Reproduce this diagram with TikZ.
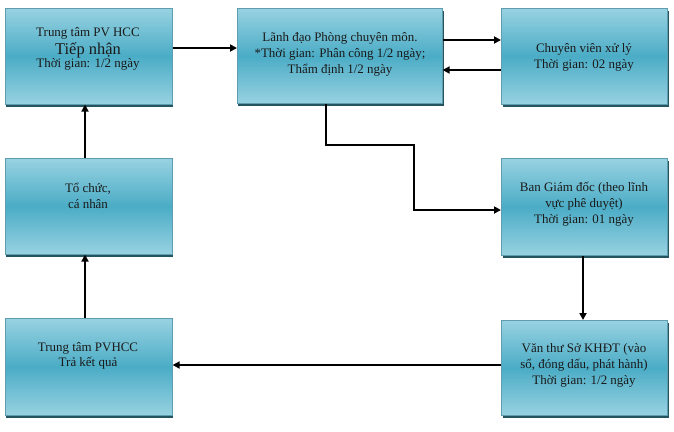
\documentclass[tikz,border=0pt]{standalone}
\usepackage{fontspec}
\setmainfont{Liberation Serif}
\usetikzlibrary{arrows.meta,shadows}
\definecolor{boxlight}{HTML}{98D2E1}
\definecolor{boxmid}{HTML}{4BACC6}
\definecolor{boxedge}{HTML}{5E9DAE}
\definecolor{shadowc}{HTML}{24545F}
\definecolor{txt}{HTML}{1A1A1A}
\tikzset{
  box/.style={draw=boxedge, line width=0.6pt, inner sep=0pt, anchor=north west,
    top color=boxlight, bottom color=boxlight, middle color=boxmid,
    drop shadow={shadow xshift=1.2pt, shadow yshift=-3pt, fill=shadowc, opacity=1}},
  lbl/.style={text=txt, align=center, inner sep=0pt, font=\fontsize{13}{16}\selectfont},
  arr/.style={line width=2.6pt, -{Triangle[length=7pt,width=7pt]}}
}
\begin{document}
\begin{tikzpicture}[x=1bp,y=-1bp]
\useasboundingbox (0,0) rectangle (674,431);
% boxes
\node[box, minimum width=167bp, minimum height=96bp] (b1) at (5,8) {};
\node[box, minimum width=205bp, minimum height=95bp] (b2) at (237,8) {};
\node[box, minimum width=166bp, minimum height=96bp] (b3) at (501,8) {};
\node[box, minimum width=167bp, minimum height=96bp] (b4) at (5,158) {};
\node[box, minimum width=166bp, minimum height=97bp] (b5) at (501,158) {};
\node[box, minimum width=166bp, minimum height=95bp] (b6) at (501,320) {};
\node[box, minimum width=167bp, minimum height=97bp] (b7) at (5,318) {};
% texts
\node[lbl] (t1) at (88,49) {Trung tâm PV HCC\\[2pt]{\fontsize{16.5}{17}\selectfont Tiếp nhận}\\[-3pt]Thời gian: 1/2 ngày};
\node[lbl] (t2) at (340,54) {Lãnh đạo Phòng chuyên môn.\\*Thời gian: Phân công 1/2 ngày;\\Thẩm định 1/2 ngày};
\node[lbl] (t3) at (584,57) {Chuyên viên xử lý\\Thời gian: 02 ngày};
\node[lbl] (t4) at (88,196) {Tổ chức,\\cá nhân};
\node[lbl, font=\fontsize{13}{15}\selectfont] (t7) at (88,356) {Trung tâm PVHCC\\Trả kết quả};
\node[lbl] (t5) at (584,204) {Ban Giám đốc (theo lĩnh\\vực phê duyệt)\\Thời gian: 01 ngày};
\node[lbl] (t6) at (584,365) {Văn thư Sở KHĐT (vào\\sổ, đóng dấu, phát hành)\\Thời gian: 1/2 ngày};
% helper coordinates
\coordinate (y48) at (0,48);
\coordinate (y40) at (0,40);
\coordinate (y70) at (0,70);
\coordinate (y365) at (0,365);
\coordinate (x85) at (85,0);
\coordinate (x583) at (583,0);
\coordinate (k1) at (326,145);
\coordinate (k2) at (414,145);
\coordinate (k3) at (414,210);
% connectors
\draw[arr] (b1.east |- y48) -- (b2.west |- y48);
\draw[arr] (b2.east |- y40) -- (b3.west |- y40);
\draw[arr] (b3.west |- y70) -- (b2.east |- y70);
\draw[arr] (b4.north -| x85) -- (b1.south -| x85);
\draw[arr] (b7.north -| x85) -- (b4.south -| x85);
\draw[arr] (b6.west |- y365) -- (b7.east |- y365);
\draw[arr] (b5.south -| x583) -- (b6.north -| x583);
\draw[arr] (b2.south -| k1) -- (k1) -- (k2) -- (k3) -- (b5.west |- k3);
\end{tikzpicture}
\end{document}
